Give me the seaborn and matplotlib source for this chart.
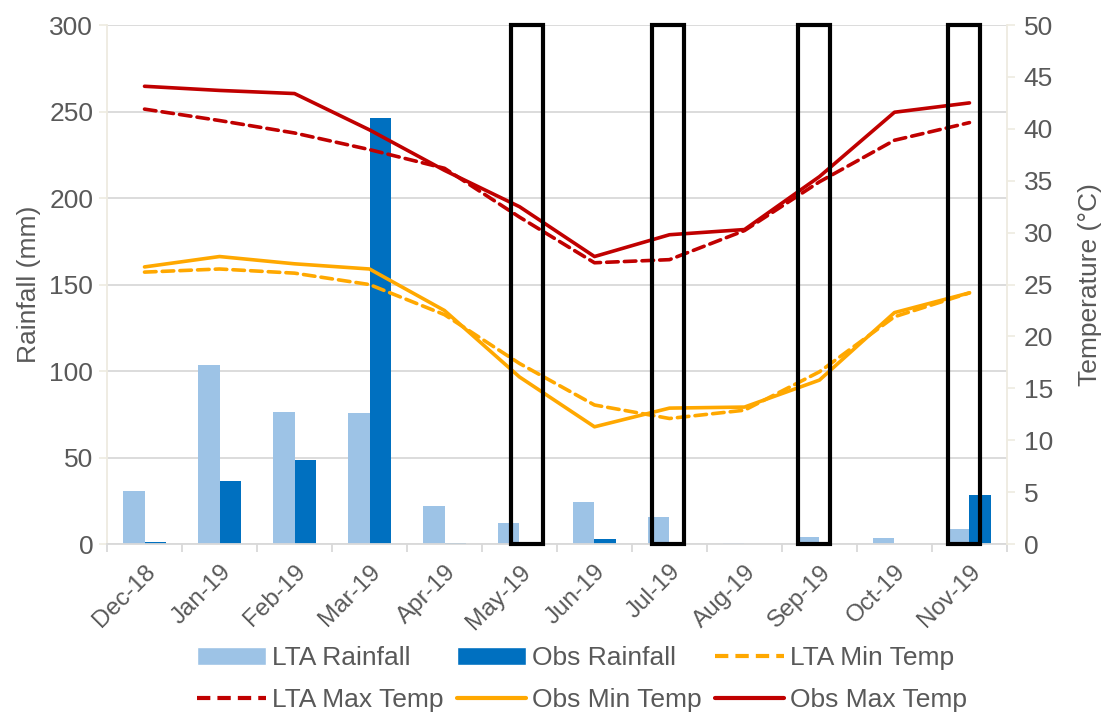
import numpy as np
import pandas as pd
import matplotlib
matplotlib.use("Agg")
import matplotlib.pyplot as plt
from matplotlib.patches import Rectangle, Patch
from matplotlib.lines import Line2D
import seaborn as sns

# Monthly climate data, Dec 2018 - Nov 2019
months = ["Dec-18", "Jan-19", "Feb-19", "Mar-19", "Apr-19", "May-19",
          "Jun-19", "Jul-19", "Aug-19", "Sep-19", "Oct-19", "Nov-19"]
lta_rainfall = [30.6, 103.6, 76.1, 76.0, 22.0, 12.1, 24.5, 15.8, 0.5, 3.9, 3.3, 8.9]
obs_rainfall = [1.3, 36.4, 48.4, 246.0, 0.5, 0.0, 2.9, 0.0, 0.0, 0.0, 0.0, 28.3]
lta_min_temp = [26.2, 26.5, 26.1, 25.0, 22.1, 17.4, 13.4, 12.1, 12.9, 16.6, 21.9, 24.2]
lta_max_temp = [41.9, 40.8, 39.6, 38.0, 36.2, 31.5, 27.1, 27.4, 30.2, 34.9, 38.9, 40.6]
obs_min_temp = [26.7, 27.7, 27.0, 26.5, 22.5, 16.1, 11.3, 13.1, 13.2, 15.8, 22.3, 24.2]
obs_max_temp = [44.1, 43.7, 43.4, 39.9, 36.0, 32.5, 27.7, 29.8, 30.3, 35.4, 41.6, 42.5]
highlight_months = ["May-19", "Jul-19", "Sep-19", "Nov-19"]

rain_ticks = [0, 50, 100, 150, 200, 250, 300]
temp_ticks = list(range(0, 55, 5))

sns.set_theme(style="white")
plt.rcParams["font.family"] = ["Liberation Sans", "DejaVu Sans"]

TXT = "#595959"
C_LTA_RAIN = "#9dc3e6"
C_OBS_RAIN = "#0070c0"
C_MIN = "#ffa800"
C_MAX = "#c00000"
SPINE_Y = "#eeebe0"
SPINE_X = "#d9d9d9"
FS = 19
FS_X = 17.5

fig = plt.figure(figsize=(11.09, 7.15), dpi=100)
ax = fig.add_axes([0.0965, 0.239, 0.8115, 0.726])

rain = pd.DataFrame({
    "Month": months * 2,
    "Rainfall": lta_rainfall + obs_rainfall,
    "Series": ["LTA Rainfall"] * len(months) + ["Obs Rainfall"] * len(months),
})
sns.barplot(data=rain, x="Month", y="Rainfall", hue="Series", order=months,
            palette={"LTA Rainfall": C_LTA_RAIN, "Obs Rainfall": C_OBS_RAIN},
            saturation=1, width=0.575, linewidth=0, ax=ax, legend=False,
            zorder=2)

ax.set_xlim(-0.5, len(months) - 0.5)
ax.set_ylim(0, 300)
ax.set_yticks(rain_ticks)
ax.set_yticklabels([str(t) for t in rain_ticks], fontsize=FS, color=TXT)
ax.set_ylabel("Rainfall (mm)", fontsize=FS, color=TXT, labelpad=6)
ax.set_xlabel("")
ax.grid(axis="y", color=SPINE_X, linewidth=1.3, zorder=0)
ax.set_axisbelow(True)

# month labels at category centres, tick marks at category boundaries
ax.set_xticks(range(len(months)))
ax.set_xticklabels(months, rotation=45, ha="right", rotation_mode="anchor",
                   fontsize=FS_X, color=TXT)
ax.tick_params(axis="x", which="major", length=0, pad=12)
ax.set_xticks(np.arange(-0.5, len(months), 1.0), minor=True)
ax.tick_params(axis="x", which="minor", length=6, width=1.3, color=SPINE_X,
               direction="out", bottom=True)
ax.tick_params(axis="y", length=6, width=1.2, color=SPINE_Y, direction="out",
               left=True, pad=4)

for side in ["top", "right"]:
    ax.spines[side].set_visible(False)
ax.spines["left"].set_color(SPINE_Y)
ax.spines["left"].set_linewidth(1.3)
ax.spines["bottom"].set_color(SPINE_X)
ax.spines["bottom"].set_linewidth(1.3)

# temperatures on the secondary axis
ax2 = ax.twinx()
x = np.arange(len(months))
DASH = (3.2, 1.7)
temp_series = [
    ("LTA Min Temp", lta_min_temp, C_MIN, DASH),
    ("LTA Max Temp", lta_max_temp, C_MAX, DASH),
    ("Obs Min Temp", obs_min_temp, C_MIN, None),
    ("Obs Max Temp", obs_max_temp, C_MAX, None),
]
handles = {}
for name, vals, col, dash in temp_series:
    sns.lineplot(x=x, y=vals, ax=ax2, color=col, linewidth=2.6, legend=False)
    line = ax2.get_lines()[-1]
    if dash:
        line.set_dashes(dash)
    line.set_solid_capstyle("round")
    line.set_dash_capstyle("round")
    h = Line2D([], [], color=col, linewidth=3.0)
    if dash:
        h.set_dashes(DASH)
    handles[name] = h

ax2.set_ylim(0, 50)
ax2.set_yticks(temp_ticks)
ax2.set_yticklabels([str(t) for t in temp_ticks], fontsize=FS, color=TXT)
ax2.set_ylabel("Temperature (°C)", fontsize=FS, color=TXT, labelpad=18)
ax2.grid(False)
ax2.tick_params(axis="y", length=6, width=1.2, color=SPINE_Y, direction="out",
                right=True, pad=6)
for side in ["top", "left", "bottom"]:
    ax2.spines[side].set_visible(False)
ax2.spines["right"].set_color(SPINE_Y)
ax2.spines["right"].set_linewidth(1.3)

# outline boxes around highlighted months
box_shift = {"May-19": 0.1, "Jul-19": -0.02, "Sep-19": -0.07, "Nov-19": -0.07}
box_w = 0.43
for m in highlight_months:
    i = months.index(m)
    cx = i + box_shift.get(m, 0.0)
    ax2.add_patch(Rectangle((cx - box_w / 2, 0), box_w, 50, fill=False,
                            edgecolor="black", linewidth=3.0, zorder=5,
                            clip_on=False))

# legend: two rows of three entries
h_lta_rain = Patch(facecolor=C_LTA_RAIN)
h_obs_rain = Patch(facecolor=C_OBS_RAIN)
order = [
    (h_lta_rain, "LTA Rainfall"), (handles["LTA Max Temp"], "LTA Max Temp"),
    (h_obs_rain, "Obs Rainfall"), (handles["Obs Min Temp"], "Obs Min Temp"),
    (handles["LTA Min Temp"], "LTA Min Temp"), (handles["Obs Max Temp"], "Obs Max Temp"),
]
leg = fig.legend([h for h, _ in order], [l for _, l in order], ncol=3,
                 loc="lower center", bbox_to_anchor=(0.525, -0.029),
                 frameon=False, fontsize=FS, handlelength=2.6, handleheight=0.7,
                 columnspacing=0.5, handletextpad=0.25, labelspacing=0.68)
for t in leg.get_texts():
    t.set_color(TXT)

fig.savefig("out.png", dpi=100)
